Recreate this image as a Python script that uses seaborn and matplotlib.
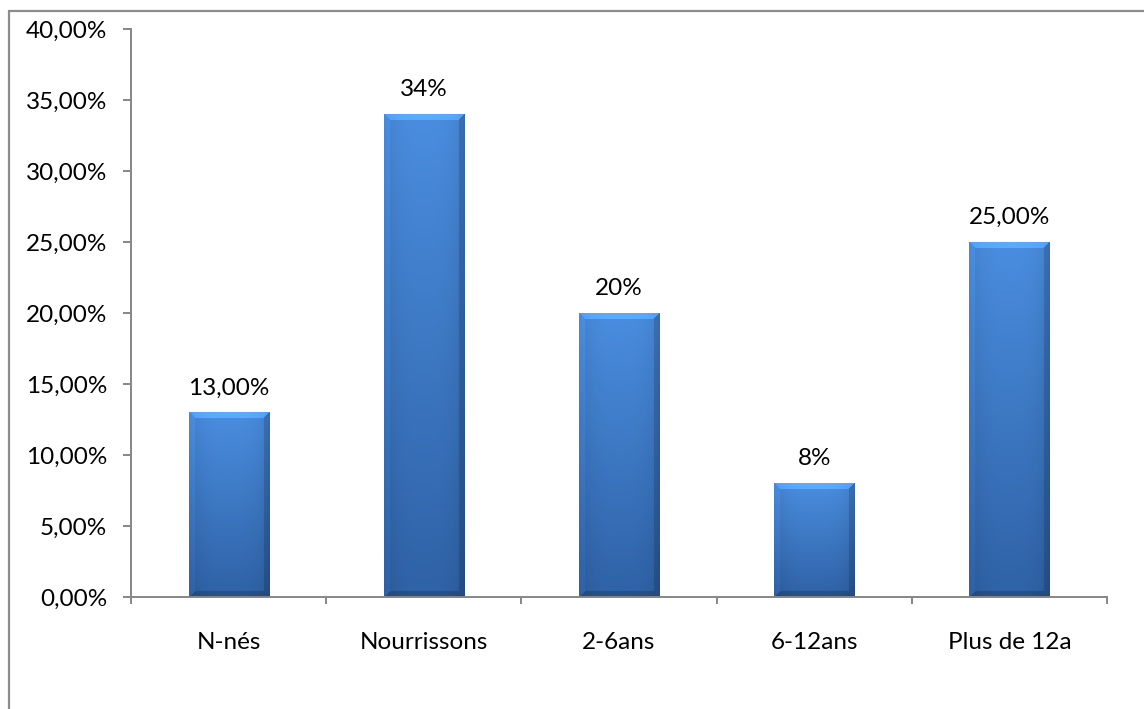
import numpy as np
import pandas as pd
import matplotlib
matplotlib.use("Agg")
import matplotlib.pyplot as plt
import seaborn as sns
from matplotlib.patches import Rectangle
from matplotlib.ticker import MultipleLocator, FuncFormatter, FixedLocator
from matplotlib.colors import to_rgb

# Répartition par tranche d'âge
categories = ["N-nés", "Nourrissons", "2-6ans", "6-12ans", "Plus de 12a"]
values = [13, 34, 20, 8, 25]
label_decimals = [2, 0, 0, 0, 2]
y_max = 40
y_step = 5

sns.set_theme(style="white")
plt.rcParams['font.family'] = ['Lato', 'DejaVu Sans']

FS = 17.5
GRAY = "#868686"

fig = plt.figure(figsize=(11.44, 7.09), dpi=100)
ax = fig.add_axes([131 / 1144, 1 - 597 / 709, (1107 - 131) / 1144, (597 - 29) / 709])

df = pd.DataFrame({"cat": categories, "val": values})
sns.barplot(data=df, x="cat", y="val", color="#3b78c8", width=0.41,
            saturation=1, ax=ax, edgecolor="#2b5a98", linewidth=0.6)

ax.set_xlim(-0.5, len(categories) - 0.5)
ax.set_ylim(0, y_max)


def bar_face(wpx, hpx, bevel=6):
    """Shaded bar face with a soft bevel around the edges."""
    wpx, hpx = max(int(wpx), 2), max(int(hpx), 2)
    top = np.array(to_rgb("#4a8ddf"))
    bot = np.array(to_rgb("#2f62a6"))
    t = np.linspace(0, 1, hpx)[:, None, None]
    img = top * (1 - t) + bot * t
    img = np.repeat(img, wpx, axis=1)
    xs = np.linspace(-1, 1, wpx)[None, :, None]
    img = img * (1 - 0.10 * np.abs(xs) ** 3)
    yy, xx = np.mgrid[0:hpx, 0:wpx]
    d = np.stack([xx, wpx - 1 - xx, yy, hpx - 1 - yy])  # left, right, top, bottom
    nearest = d.argmin(axis=0)
    inband = d.min(axis=0) < bevel
    shades = {0: 1.08, 1: 0.85, 2: 1.22, 3: 0.82}
    for k, f in shades.items():
        m = inband & (nearest == k)
        img[m] = np.clip(img[m] * f, 0, 1)
    return img


fig.canvas.draw()
for p in ax.patches:
    x0, y0, w, h = p.get_x(), p.get_y(), p.get_width(), p.get_height()
    (px0, py0), (px1, py1) = ax.transData.transform([(x0, y0), (x0 + w, y0 + h)])
    img = bar_face(px1 - px0, py1 - py0)
    im = ax.imshow(img, extent=[x0, x0 + w, y0, y0 + h], aspect="auto",
                   origin="upper", zorder=p.get_zorder() + 0.1, interpolation="bilinear")
    im.set_clip_path(p)

ax.set_xlim(-0.5, len(categories) - 0.5)
ax.set_ylim(0, y_max)

# Value labels above bars
for i, (v, dec) in enumerate(zip(values, label_decimals)):
    txt = f"{v:.{dec}f}%".replace(".", ",")
    ax.annotate(txt, (i, v), xytext=(0, 13), textcoords="offset points",
                ha="center", va="baseline", fontsize=FS, color="black")

# Axes styling
for s in ["top", "right"]:
    ax.spines[s].set_visible(False)
for s in ["left", "bottom"]:
    ax.spines[s].set_color(GRAY)
    ax.spines[s].set_linewidth(1.4)

ax.yaxis.set_major_locator(MultipleLocator(y_step))
ax.yaxis.set_major_formatter(FuncFormatter(lambda v, _: f"{v:.2f}%".replace(".", ",")))
ax.tick_params(axis="y", direction="out", length=6, width=1.4, color=GRAY,
               pad=11, labelsize=FS, labelcolor="black", left=True)

ax.set_xticks(range(len(categories)))
ax.set_xticklabels(categories)
ax.xaxis.set_minor_locator(FixedLocator(np.arange(-0.5, len(categories), 1.0)))
ax.tick_params(axis="x", which="major", length=0, pad=25, labelsize=FS, labelcolor="black")
ax.tick_params(axis="x", which="minor", direction="out", length=5, width=1.4,
               color=GRAY, bottom=True)
ax.set_xlabel("")
ax.set_ylabel("")
ax.grid(False)

# Chart-area frame
fig.patches.append(Rectangle((8.5 / 1144, -0.1), 1.2, 1 - 10.5 / 709 + 0.1,
                             transform=fig.transFigure, fill=False,
                             edgecolor="#8c8c8c", linewidth=1.6))

fig.savefig("out.png", dpi=100)
